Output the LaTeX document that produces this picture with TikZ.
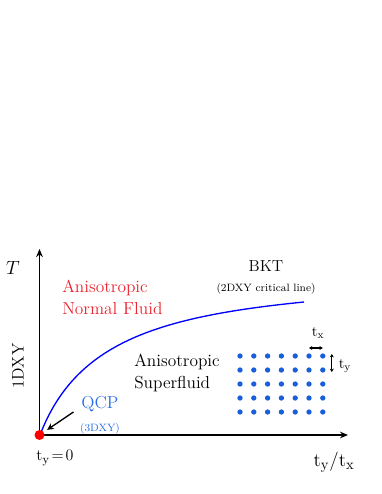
\documentclass[tikz,border=0pt]{standalone}
\usepackage{amsmath,amssymb}
\usepackage{tikz}
\usetikzlibrary{arrows.meta,positioning}

\definecolor{fluidred}{RGB}{235,35,45}
\definecolor{qcpblue}{RGB}{40,110,230}
\definecolor{siteblue}{RGB}{25,95,220}

\begin{document}
\begin{tikzpicture}[x=0.75pt, y=-0.75pt,
  axis/.style={-{Stealth[length=6pt,width=5pt]}, line width=1pt},
  phase/.style={font=\fontsize{13}{16.5}\selectfont, align=left, inner sep=0pt},
  note/.style={font=\fontsize{8}{10}\selectfont, inner sep=0pt},
  site/.style={circle, fill=siteblue, inner sep=0pt, minimum size=4pt},
  hop/.style={{Stealth[length=2.5pt,width=3pt]}-{Stealth[length=2.5pt,width=3pt]}, line width=0.8pt}
]
  \useasboundingbox (0,0) rectangle (382,494);

  % axes
  \coordinate (O) at (39.5,435);
  \coordinate (xend) at (348,435);
  \coordinate (yend) at (39.5,249);
  \draw[axis] (O) -- (xend);
  \draw[axis] (O) -- (yend);
  \node[font=\fontsize{14}{16}\selectfont] (Tlbl) at (13,268) {$T$};
  \node[font=\fontsize{12.5}{15}\selectfont, rotate=90] (dxy) at (18,366) {1DXY};
  \node[font=\fontsize{12.5}{15}\selectfont] (tyzero) at (55,458) {$\mathrm{t_y}\!=\!0$};
  \node[font=\fontsize{15}{18}\selectfont] (ratio) at (334,462) {$\mathrm{t_y}/\mathrm{t_x}$};

  % BKT line
  \coordinate (bktend) at (304,302);
  \draw[blue, line width=1pt] (40,435) .. controls (75,344) and (154,317) .. (bktend);
  \node[font=\fontsize{12}{14}\selectfont] (bkt) at (266,266) {BKT};
  \node[note, below=5pt of bkt] (bktnote) {(2DXY critical line)};

  % phases
  \node[phase, text=fluidred, anchor=west] (normal) at (62,297) {Anisotropic\\Normal Fluid};
  \node[phase, anchor=west] (super) at (134,373) {Anisotropic\\Superfluid};

  % critical point
  \node[circle, fill=red, inner sep=0pt, minimum size=7.5pt] (qcp) at (O) {};
  \node[font=\fontsize{13}{15}\selectfont, text=qcpblue] (qcplbl) at (100,404) {QCP};
  \node[note, text=qcpblue, below=5pt of qcplbl] (qcpnote) {(3DXY)};
  \draw[-{Stealth[length=5pt,width=5pt]}, line width=1pt, shorten >=3pt]
    ([xshift=-2.5pt,yshift=-6pt]qcplbl.west) -- (qcp);

  % lattice
  \foreach \i in {0,...,6}
    \foreach \j in {0,...,4}
      \node[site] (s\i\j) at (240+13.8*\i, 356+14*\j) {};
  \draw[hop] ([yshift=6pt]s50.center) -- ([yshift=6pt]s60.center);
  \draw[hop] ([xshift=6.75pt,yshift=1.5pt]s60.center) -- ([xshift=6.75pt,yshift=-1.5pt]s61.center);
  \node[font=\fontsize{11}{13}\selectfont] (txlbl) at (318,333) {$\mathrm{t_x}$};
  \node[font=\fontsize{11}{13}\selectfont] (tylbl) at (345,366) {$\mathrm{t_y}$};
\end{tikzpicture}
\end{document}
